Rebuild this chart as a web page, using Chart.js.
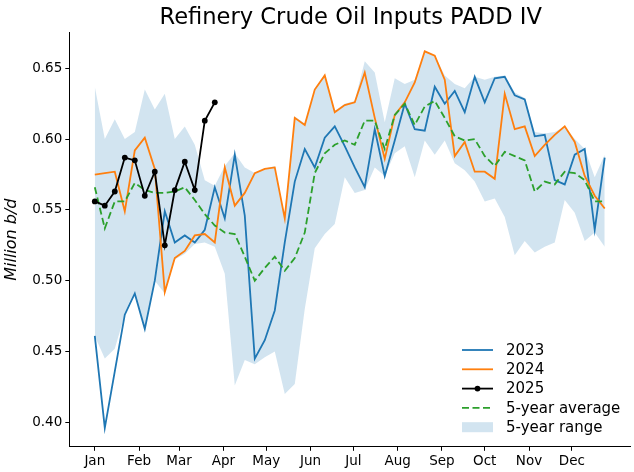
<!DOCTYPE html>
<html>
<head>
<meta charset="utf-8">
<title>Refinery Crude Oil Inputs PADD IV</title>
<script src="https://cdn.jsdelivr.net/npm/chart.js@4.4.1/dist/chart.umd.min.js"></script>
<style>
  html, body { margin: 0; padding: 0; background: #fff; }
  #wrap { width: 634px; height: 472px; }
</style>
</head>
<body>
<div id="wrap"><canvas id="padd4-chart" width="634" height="472"></canvas></div>
<script>
// Weekly refinery crude inputs, PADD IV (million b/d), one value per week
const months = ["Jan", "Feb", "Mar", "Apr", "May", "Jun", "Jul", "Aug", "Sep", "Oct", "Nov", "Dec"];
const monthStartDays = [0, 31, 59, 90, 120, 151, 181, 212, 243, 273, 304, 334];
const yTicks = [0.40, 0.45, 0.50, 0.55, 0.60, 0.65];

const inputs2023 = [
  0.461, 0.396, 0.436, 0.476, 0.491, 0.466, 0.500, 0.549, 0.527, 0.532,
  0.527, 0.536, 0.566, 0.544, 0.589, 0.546, 0.445, 0.458, 0.479, 0.527,
  0.570, 0.593, 0.580, 0.601, 0.609, 0.595, 0.580, 0.566, 0.607, 0.574,
  0.599, 0.625, 0.607, 0.606, 0.637, 0.625, 0.634, 0.619, 0.644, 0.626,
  0.643, 0.644, 0.631, 0.628, 0.602, 0.603, 0.571, 0.568, 0.589, 0.593,
  0.536, 0.587
];
const inputs2024 = [
  0.575, 0.576, 0.577, 0.549, 0.592, 0.601, 0.579, 0.492, 0.516, 0.521,
  0.532, 0.533, 0.527, 0.580, 0.553, 0.562, 0.576, 0.579, 0.580, 0.544,
  0.615, 0.610, 0.635, 0.645, 0.619, 0.624, 0.626, 0.647, 0.615, 0.586,
  0.617, 0.626, 0.640, 0.662, 0.659, 0.642, 0.588, 0.598, 0.577, 0.577,
  0.572, 0.632, 0.607, 0.609, 0.588, 0.596, 0.603, 0.609, 0.598, 0.574,
  0.560, 0.551
];
const inputs2025 = [0.556, 0.553, 0.563, 0.587, 0.585, 0.560, 0.577, 0.525, 0.564, 0.584, 0.564, 0.613, 0.626];

const avg5yr = [
  0.566, 0.537, 0.556, 0.556, 0.569, 0.564, 0.562, 0.562, 0.563, 0.566,
  0.557, 0.547, 0.539, 0.534, 0.533, 0.517, 0.500, 0.509, 0.517, 0.507,
  0.516, 0.534, 0.576, 0.590, 0.596, 0.599, 0.596, 0.613, 0.613, 0.593,
  0.617, 0.625, 0.610, 0.623, 0.627, 0.615, 0.602, 0.599, 0.600, 0.588,
  0.581, 0.591, 0.588, 0.585, 0.563, 0.570, 0.568, 0.577, 0.576, 0.571,
  0.556, 0.556
];
const rangeHigh = [
  0.637, 0.600, 0.614, 0.600, 0.605, 0.635, 0.621, 0.632, 0.600, 0.609,
  0.596, 0.571, 0.567, 0.581, 0.590, 0.580, 0.576, 0.579, 0.581, 0.545,
  0.616, 0.611, 0.635, 0.646, 0.620, 0.625, 0.627, 0.655, 0.647, 0.612,
  0.643, 0.639, 0.642, 0.662, 0.659, 0.645, 0.639, 0.636, 0.644, 0.642,
  0.644, 0.645, 0.633, 0.629, 0.605, 0.604, 0.605, 0.609, 0.600, 0.593,
  0.573, 0.589
];
const rangeLow = [
  0.461, 0.445, 0.452, 0.476, 0.491, 0.466, 0.500, 0.491, 0.515, 0.519,
  0.526, 0.527, 0.524, 0.505, 0.426, 0.444, 0.441, 0.446, 0.450, 0.420,
  0.427, 0.480, 0.523, 0.533, 0.540, 0.573, 0.562, 0.564, 0.580, 0.574,
  0.590, 0.595, 0.573, 0.599, 0.589, 0.599, 0.583, 0.578, 0.570, 0.556,
  0.558, 0.545, 0.518, 0.528, 0.520, 0.524, 0.527, 0.557, 0.548, 0.528,
  0.534, 0.524
];

const FONT = "'DejaVu Sans', 'Liberation Sans', sans-serif";
Chart.defaults.font.family = FONT;
Chart.defaults.color = "#000";

// week i sits on day-of-year 7*i
function toPoints(values) {
  return values.map((v, i) => ({ x: i * 7, y: v }));
}

// title centred over the plot area + legend in the lower right corner
const decorations = {
  id: "decorations",
  afterDraw(chart) {
    const ctx = chart.ctx;
    const area = chart.chartArea;
    ctx.save();
    ctx.fillStyle = "#000";
    ctx.font = "22.6px " + FONT;
    ctx.textAlign = "center";
    ctx.textBaseline = "middle";
    ctx.fillText("Refinery Crude Oil Inputs PADD IV", (area.left + area.right) / 2 + 1, 18);

    const entries = [
      { label: "2023", color: "#1f77b4", kind: "line" },
      { label: "2024", color: "#ff7f0e", kind: "line" },
      { label: "2025", color: "#000000", kind: "marker" },
      { label: "5-year average", color: "#2ca02c", kind: "dash" },
      { label: "5-year range", color: "rgba(31,119,180,0.2)", kind: "patch" },
    ];
    const x0 = 462, x1 = 493;
    ctx.font = "15px " + FONT;
    ctx.textAlign = "left";
    entries.forEach((e, i) => {
      const y = 350 + i * 19.3;
      ctx.strokeStyle = e.color;
      ctx.fillStyle = e.color;
      ctx.lineWidth = 1.8;
      if (e.kind === "patch") {
        ctx.fillRect(x0, y - 5, x1 - x0, 10);
      } else {
        ctx.setLineDash(e.kind === "dash" ? [7, 3.5] : []);
        ctx.beginPath();
        ctx.moveTo(x0, y);
        ctx.lineTo(x1, y);
        ctx.stroke();
        ctx.setLineDash([]);
        if (e.kind === "marker") {
          ctx.beginPath();
          ctx.arc((x0 + x1) / 2, y, 2.9, 0, Math.PI * 2);
          ctx.fill();
        }
      }
      ctx.fillStyle = "#000";
      ctx.fillText(e.label, 506, y + 1);
    });
    ctx.restore();
  },
};

const lineStyle = (color) => ({
  borderColor: color,
  backgroundColor: color,
  borderWidth: 1.8,
  pointRadius: 0,
  fill: false,
});

new Chart(document.getElementById("padd4-chart").getContext("2d"), {
  type: "line",
  data: {
    datasets: [
      {
        label: "2025",
        data: toPoints(inputs2025),
        ...lineStyle("#000000"),
        pointRadius: 2.9,
        pointBorderWidth: 0,
        pointBackgroundColor: "#000000",
      },
      { label: "5-year average", data: toPoints(avg5yr), ...lineStyle("#2ca02c"), borderDash: [7, 3.5] },
      { label: "2024", data: toPoints(inputs2024), ...lineStyle("#ff7f0e") },
      { label: "2023", data: toPoints(inputs2023), ...lineStyle("#1f77b4") },
      {
        label: "5-year range",
        data: toPoints(rangeHigh),
        borderWidth: 0,
        pointRadius: 0,
        backgroundColor: "rgba(31,119,180,0.2)",
        fill: "+1",
      },
      {
        label: "5-year range low",
        data: toPoints(rangeLow),
        borderWidth: 0,
        pointRadius: 0,
        fill: false,
      },
    ],
  },
  options: {
    responsive: false,
    animation: false,
    events: [],
    layout: { padding: { top: 32.5, right: 0, bottom: 0, left: 0 } },
    plugins: {
      legend: { display: false },
      title: { display: false },
      tooltip: { enabled: false },
    },
    scales: {
      x: {
        type: "linear",
        min: -17.85,
        max: 374.7,
        afterBuildTicks: (scale) => {
          scale.ticks = monthStartDays.map((d) => ({ value: d }));
        },
        afterFit: (scale) => {
          scale.height = 25.2;
        },
        ticks: {
          autoSkip: false,
          maxRotation: 0,
          padding: 3,
          font: { size: 13.5 },
          callback: (value) => months[monthStartDays.indexOf(value)],
        },
        grid: { drawOnChartArea: false, drawTicks: true, tickLength: 4, color: "#000" },
        border: { display: true, color: "#000", width: 1 },
      },
      y: {
        min: 0.3827,
        max: 0.6753,
        afterBuildTicks: (scale) => {
          scale.ticks = yTicks.map((v) => ({ value: v }));
        },
        afterFit: (scale) => {
          scale.width = 69.3;
        },
        ticks: {
          padding: 3,
          font: { size: 13.5 },
          callback: (value) => value.toFixed(2),
        },
        grid: { drawOnChartArea: false, drawTicks: true, tickLength: 4, color: "#000" },
        border: { display: true, color: "#000", width: 1 },
        title: {
          display: true,
          text: "Million b/d",
          font: { size: 16, style: "italic" },
          padding: { top: 2, bottom: 2 },
        },
      },
    },
  },
  plugins: [decorations],
});
</script>
</body>
</html>
